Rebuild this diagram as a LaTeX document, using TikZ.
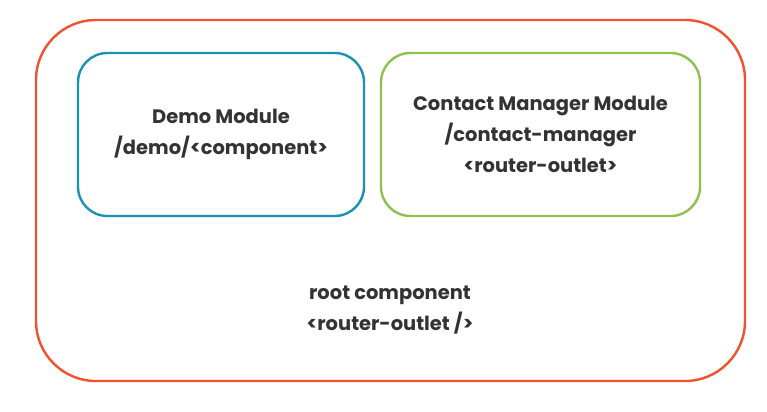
\documentclass[tikz,border=0pt]{standalone}
\usepackage{fontspec}
\setmainfont{Poppins}
\usepackage{xcolor}
\usetikzlibrary{positioning}
\definecolor{rootred}{HTML}{F2512F}
\definecolor{demoblue}{HTML}{1B92B2}
\definecolor{contactgreen}{HTML}{8DC150}
\definecolor{textgray}{HTML}{333333}

\begin{document}
\begin{tikzpicture}[x=0.75pt,y=-0.75pt,
  box/.style={draw,line width=1.8pt,align=center,text=textgray,font=\fontsize{14.6}{23}\selectfont\bfseries},
  lbl/.style={align=center,text=textgray,font=\fontsize{14.6}{23}\selectfont\bfseries}]
\useasboundingbox (0,0) rectangle (767,411);
\node[box,draw=rootred,rounded corners=45pt,minimum width=531.75pt,minimum height=270.75pt] (root) at (390.5,200.5) {};
\node[box,draw=demoblue,rounded corners=22pt,minimum width=214.5pt,minimum height=122.25pt] (demo) at (221,134.5) {Demo Module\\/demo/<component>};
\node[box,draw=contactgreen,rounded corners=22pt,minimum width=239.25pt,minimum height=122.25pt] (contact) at (540.5,134.5) {Contact Manager Module\\/contact-manager\\<router-outlet>};
\node[lbl] (rootlbl) at (390,310) {root component\\<router-outlet />};
\end{tikzpicture}
\end{document}
